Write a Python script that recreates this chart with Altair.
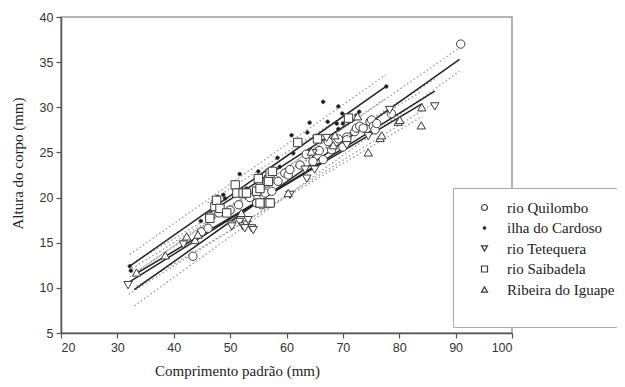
import altair as alt
import pandas as pd

groups = ["rio Quilombo", "ilha do Cardoso", "rio Tetequera", "rio Saibadela", "Ribeira do Iguape"]

quilombo_x = [43.4, 44.9, 46.1, 46.4, 48.0, 50.0, 51.5, 53.5, 54.7, 55.6, 55.9, 56.2, 56.5, 57.4, 58.5, 59.7, 60.3, 60.6, 62.4, 63.5, 64.7, 65.8, 66.5, 67.4, 68.0, 69.2, 70.0, 70.7, 70.7, 72.1, 72.4, 73.0, 73.6, 74.8, 75.1, 75.4, 75.7, 76.0, 78.6, 90.9]
quilombo_y = [13.5, 16.2, 16.6, 17.9, 18.3, 18.6, 19.2, 20.0, 19.4, 19.2, 20.3, 20.5, 21.6, 20.7, 21.8, 22.7, 22.5, 23.1, 23.6, 24.8, 24.0, 25.2, 24.2, 26.2, 25.3, 26.5, 25.6, 26.7, 26.4, 27.3, 27.7, 27.9, 27.7, 28.4, 28.6, 27.9, 27.5, 28.2, 29.3, 37.0]

cardoso_x = [32.2, 32.4, 44.8, 47.0, 47.8, 48.8, 49.1, 51.7, 52.9, 55.0, 58.4, 58.8, 60.9, 61.2, 63.7, 64.1, 66.5, 67.3, 68.9, 69.2, 69.2, 69.9, 70.0, 70.7, 72.4, 72.9, 77.7]
cardoso_y = [12.4, 11.9, 17.4, 19.2, 20.1, 20.3, 19.9, 22.6, 21.0, 22.9, 24.4, 23.4, 26.9, 24.9, 27.2, 28.3, 30.6, 28.4, 28.2, 30.1, 27.6, 29.3, 28.2, 29.1, 29.1, 29.5, 32.3]

tetequera_x = [31.9, 41.7, 50.3, 50.3, 51.7, 52.3, 52.9, 53.2, 53.8, 54.1, 52.6, 60.6, 63.3, 63.6, 64.7, 65.0, 67.1, 70.7, 74.5, 78.3, 86.3]
tetequera_y = [10.3, 14.8, 17.0, 16.8, 17.3, 16.8, 17.0, 17.5, 16.6, 16.4, 16.6, 20.3, 23.1, 22.1, 24.9, 23.1, 26.6, 25.8, 26.8, 29.7, 30.1]

saibadela_x = [46.4, 47.3, 47.6, 48.2, 49.4, 50.9, 51.2, 52.3, 52.9, 54.7, 55.0, 55.3, 55.3, 56.8, 56.8, 56.8, 57.1, 57.1, 57.5, 62.0, 65.5, 71.0]
saibadela_y = [17.7, 19.0, 19.7, 18.8, 18.3, 21.4, 20.5, 20.5, 20.5, 20.7, 22.1, 21.0, 19.4, 22.0, 21.8, 19.4, 22.7, 19.4, 22.9, 26.1, 26.5, 28.8]

iguape_x = [33.4, 38.5, 42.3, 43.8, 44.3, 52.0, 60.3, 64.4, 68.3, 68.6, 72.6, 74.5, 76.6, 76.9, 79.8, 80.1, 83.9, 84.0]
iguape_y = [11.7, 13.6, 15.7, 15.3, 15.9, 18.3, 20.5, 25.1, 25.8, 26.9, 29.0, 25.0, 26.6, 26.9, 28.4, 28.6, 28.0, 30.0]

# regression line end points per group (same order as groups)
fit_x0 = [33.0, 32.2, 32.0, 46.0, 33.4]
fit_x1 = [90.7, 77.6, 86.3, 73.0, 84.1]
fit_y0 = [9.8, 12.4, 10.6, 18.2, 11.6]
fit_y1 = [35.3, 32.3, 31.8, 29.0, 30.4]
# confidence band end points
low_y0 = [8.0, 11.2, 9.3, 17.2, 10.2]
low_y1 = [34.0, 31.0, 30.5, 27.8, 29.0]
up_y0 = [11.6, 13.7, 11.9, 19.4, 13.0]
up_y1 = [36.6, 33.6, 33.1, 30.2, 31.8]

rows = []
for g, xs, ys in zip(groups,
                     [quilombo_x, cardoso_x, tetequera_x, saibadela_x, iguape_x],
                     [quilombo_y, cardoso_y, tetequera_y, saibadela_y, iguape_y]):
    for x, y in zip(xs, ys):
        rows.append({"grupo": g, "x": x, "y": y})
pts = pd.DataFrame(rows)

lrows = []
for i, g in enumerate(groups):
    lrows.append({"grupo": g, "kind": "fit", "x": fit_x0[i], "y": fit_y0[i]})
    lrows.append({"grupo": g, "kind": "fit", "x": fit_x1[i], "y": fit_y1[i]})
    lrows.append({"grupo": g, "kind": "low", "x": fit_x0[i], "y": low_y0[i]})
    lrows.append({"grupo": g, "kind": "low", "x": fit_x1[i], "y": low_y1[i]})
    lrows.append({"grupo": g, "kind": "up", "x": fit_x0[i], "y": up_y0[i]})
    lrows.append({"grupo": g, "kind": "up", "x": fit_x1[i], "y": up_y1[i]})
lines = pd.DataFrame(lrows)

SERIF = "Times New Roman"

xs = alt.Scale(domain=[20, 100], nice=False, zero=False)
ys = alt.Scale(domain=[5, 40], nice=False, zero=False)

xaxis = alt.Axis(values=[20, 30, 40, 50, 60, 70, 80, 90, 100], title="Comprimento padrão (mm)",
                 titleX=176, titleY=42, titleBaseline="alphabetic", titleAlign="center")
yaxis = alt.Axis(values=[5, 10, 15, 20, 25, 30, 35, 40], title="Altura do corpo (mm)",
                 titleX=-44, titleY=146, titleAngle=270, titleBaseline="middle", titleAlign="center")

band = alt.Chart(lines).transform_filter(alt.datum.kind != "fit").mark_line(
    color="#9a9a9a", strokeDash=[1.5, 2.5], strokeWidth=1.3
).encode(
    x=alt.X("x:Q", scale=xs, axis=xaxis),
    y=alt.Y("y:Q", scale=ys, axis=yaxis),
    detail=["grupo:N", "kind:N"],
)

fit = alt.Chart(lines).transform_filter(alt.datum.kind == "fit").mark_line(
    color="#222222", strokeWidth=1.5
).encode(
    x=alt.X("x:Q", scale=xs),
    y=alt.Y("y:Q", scale=ys),
    detail="grupo:N",
)

dot_path = "M-0.42,0A0.42,0.42 0 1,0 0.42,0A0.42,0.42 0 1,0 -0.42,0Z"

points = alt.Chart(pts).mark_point(filled=True, opacity=1, strokeWidth=1, size=70).encode(
    x=alt.X("x:Q", scale=xs),
    y=alt.Y("y:Q", scale=ys),
    shape=alt.Shape("grupo:N", scale=alt.Scale(domain=groups,
                    range=["circle", dot_path, "triangle-down", "square", "triangle-up"]),
                    legend=alt.Legend(title=" ", orient="none", legendX=392, legendY=171)),
    fill=alt.Fill("grupo:N", scale=alt.Scale(domain=groups,
                  range=["white", "#1a1a1a", "white", "white", "white"])),
    stroke=alt.Stroke("grupo:N", scale=alt.Scale(domain=groups,
                      range=["#3a3a3a", "#3a3a3a", "#3a3a3a", "#3a3a3a", "#3a3a3a"])),
)

chart = alt.layer(band, fit, points).properties(
    width=451, height=316,
    autosize=alt.AutoSizeParams(type="none"),
    padding={"left": 53, "top": 9, "right": 105, "bottom": 46},
).configure_view(
    stroke="#9a9a9a", strokeWidth=1.5
).configure_axis(
    grid=False, domainColor="#555555", domainWidth=1.5, tickColor="#555555", tickSize=5, tickWidth=1.2,
    labelFont="Liberation Sans", labelFontSize=12.5, labelColor="#333333", labelPadding=3,
    titleFont=SERIF, titleFontSize=15, titleFontWeight="normal", titleColor="#222222",
).configure_legend(
    strokeColor="#aaaaaa", fillColor="white", padding=12, cornerRadius=0,
    labelFont=SERIF, labelFontSize=15, labelColor="#222222",
    symbolSize=36, symbolStrokeWidth=1.2, symbolOffset=12,
    labelOffset=15, rowPadding=4.5, titleOrient="bottom", titleFontSize=8, titlePadding=9,
)

chart.save("out.html", embed_options={"renderer": "svg", "actions": False})
